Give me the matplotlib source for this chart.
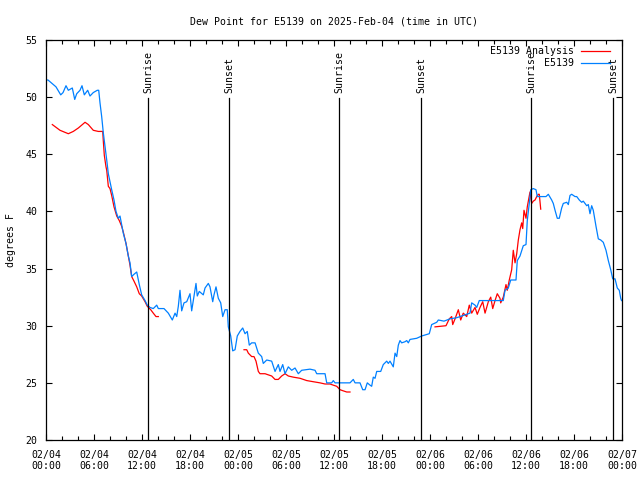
import matplotlib
matplotlib.use('Agg')
import matplotlib.pyplot as plt
import matplotlib.dates as mdates
import numpy as np
import pandas as pd

plt.rcParams['font.family'] = ['DejaVu Sans Mono']
FS = 7.1

start = pd.Timestamp('2025-02-04 00:00')

# E5139 observations: hours since 02/04 00:00 UTC, dew point (F)
obs_hours = [0, 0.25, 0.75, 1.25, 1.84, 2.13, 2.5, 2.79, 3.29, 3.59, 3.84, 4.25, 4.5, 4.79, 5.21, 5.5,
             5.91, 6.41, 6.59, 6.75, 6.96, 7.16, 7.38, 7.59, 7.79, 8.21, 8.5, 8.75, 9.04, 9.25, 9.66,
             10.0, 10.29, 10.5, 10.71, 11.0, 11.34, 11.66, 11.96, 12.38, 12.66, 13.0, 13.41, 13.84,
             14.04, 14.75, 15.29, 15.79, 16.13, 16.34, 16.54, 16.75, 16.96, 17.25, 17.59, 18.0, 18.21,
             18.5, 18.75, 18.91, 19.16, 19.66, 19.88, 20.29, 20.5, 20.84, 21.0, 21.25, 21.54, 21.84,
             22.09, 22.38, 22.66, 22.79, 23.09, 23.34, 23.63, 23.91, 24.25, 24.59, 24.88, 25.16,
             25.41, 25.71, 26.13, 26.54, 26.96, 27.16, 27.59, 28.21, 28.63, 29.04, 29.25, 29.59,
             29.88, 30.29, 30.71, 31.13, 31.54, 31.96, 33.0, 33.63, 33.84, 34.88, 35.09, 35.71,
             35.91, 36.13, 38.0, 38.41, 38.63, 39.25, 39.59, 39.88, 40.16, 40.5, 40.71, 40.91,
             41.13, 41.34, 41.84, 42.16, 42.59, 42.79, 43.0, 43.41, 43.63, 43.84, 44.04, 44.25,
             44.46, 44.88, 45.09, 45.29, 45.5, 46.34, 46.96, 47.91, 48.21, 48.84, 49.04, 49.75,
             50.5, 51.34, 51.75, 53.0, 53.21, 53.63, 53.84, 54.16, 57.16, 57.38, 57.79, 58.09,
             58.75, 58.91, 59.25, 59.66, 60.0, 60.16, 60.41, 60.59, 60.91, 61.25, 61.41, 62.5,
             62.79, 63.21, 63.41, 63.63, 63.91, 64.16, 64.46, 64.66, 65.09, 65.29, 65.5, 65.71,
             66.13, 66.34, 66.66, 66.96, 67.16, 67.59, 67.79, 68.0, 68.21, 68.41, 68.75, 69.04,
             69.34, 69.66, 70.0, 70.29, 70.59, 70.84, 71.13, 71.41, 71.66, 71.84, 71.94]
obs_dewp = [51.5, 51.5, 51.2, 50.9, 50.2, 50.4, 51.0, 50.6, 50.8, 49.8, 50.3, 50.6, 51.0, 50.2, 50.6, 50.1,
            50.4, 50.6, 50.6, 49.5, 48.3, 46.9, 45.7, 44.5, 43.3, 41.9, 41.0, 40.0, 39.4, 39.6, 38.1,
            37.2, 36.1, 35.5, 34.3, 34.5, 34.7, 33.6, 32.7, 32.2, 31.8, 31.6, 31.5, 31.8,
            31.5, 31.5, 31.1, 30.5, 31.1, 30.8, 31.7, 33.1, 31.3, 32.0, 32.1, 32.8, 31.3,
            32.6, 33.7, 32.6, 33.0, 32.7, 33.3, 33.7, 33.4, 32.1, 32.7, 33.4, 32.4, 32.0,
            30.8, 31.4, 31.4, 29.9, 29.1, 27.8, 27.9, 29.1, 29.5, 29.8, 29.3, 29.5,
            28.3, 28.5, 28.5, 27.6, 27.3, 26.7, 27.0, 26.9, 26.0, 26.6, 26.0, 26.6,
            25.8, 26.4, 26.1, 26.3, 25.8, 26.1, 26.2, 26.1, 25.8, 25.8, 25.0, 25.0,
            25.2, 25.0, 25.0, 25.3, 25.0, 25.0, 24.4, 24.4, 25.0, 24.8, 24.7, 25.5,
            25.4, 26.0, 26.0, 26.6, 26.9, 26.7, 26.9, 26.4, 27.6, 27.3, 28.3, 28.7,
            28.5, 28.6, 28.7, 28.5, 28.8, 28.9, 29.1, 29.3, 30.1, 30.3, 30.5, 30.4,
            30.6, 30.7, 30.8, 31.1, 32.0, 31.8, 31.6, 32.2, 32.2, 33.1, 33.3, 34.0,
            34.0, 35.7, 36.1, 37.0, 37.1, 39.2, 40.7, 41.9, 42.0, 41.9, 41.3, 41.3,
            41.5, 41.0, 40.7, 40.1, 39.4, 39.4, 40.3, 40.7, 40.8, 40.6, 41.4, 41.5,
            41.3, 41.3, 41.0, 40.8, 40.9, 40.5, 40.6, 39.8, 40.5, 40.1, 38.7, 37.6,
            37.5, 37.3, 36.6, 35.7, 34.9, 34.1, 34.1, 33.3, 33.1, 32.4, 32.2]

# E5139 Analysis (NaN marks gaps)
ana_hours = [0.79, 1.75, 2.79, 3.41, 4.04, 4.88, 5.29, 5.91, 6.54, 7.09, 7.16, 7.29, 7.5, 7.59, 7.79,
             8.0, 8.21, 8.5, 8.63, 8.84, 9.16, 9.46, 9.66, 10.0, 10.29, 10.5, 10.71, 11.0, 11.34,
             11.66, 11.96, 12.38, 12.66, 13.09, 13.41, 13.75, 14.04, 14.1,
             24.75, 25.09, 25.29, 25.71, 26.0, 26.25, 26.54, 26.75, 27.38, 27.79, 28.21, 28.63,
             29.04, 29.46, 29.88, 30.29, 30.91, 31.75, 32.59, 33.41, 34.25, 34.88, 35.5, 35.91,
             36.34, 36.75, 37.16, 37.59, 38.0, 38.1,
             48.63, 50.0, 50.41, 50.71, 50.84, 51.13, 51.54, 51.84, 52.16, 52.59, 52.91, 53.21,
             53.63, 53.91, 54.25, 54.59, 54.88, 55.29, 55.59, 55.84, 56.13, 56.41, 56.75, 56.84,
             57.16, 57.5, 57.66, 57.91, 58.21, 58.41, 58.63, 58.84, 59.04, 59.25, 59.46, 59.59,
             59.75, 60.0, 60.16, 60.5, 60.71, 60.91, 61.13, 61.34, 61.54, 61.66, 61.84]
ana_dewp = [47.6, 47.1, 46.8, 47.0, 47.3, 47.8, 47.6, 47.1, 47.0, 47.0, 46.2, 44.9, 43.9, 43.6, 42.2,
            42.0, 41.4, 40.4, 40.1, 39.6, 39.2, 38.7, 38.2, 37.2, 36.1, 35.3, 34.3, 33.9, 33.4,
            32.8, 32.6, 32.1, 31.7, 31.4, 31.1, 30.8, 30.8, np.nan,
            27.9, 27.9, 27.6, 27.3, 27.3, 26.9, 26.0, 25.8, 25.8, 25.7, 25.6, 25.3,
            25.3, 25.6, 25.8, 25.6, 25.5, 25.4, 25.2, 25.1, 25.0, 24.9, 24.9, 24.8,
            24.7, 24.4, 24.3, 24.2, 24.2, np.nan,
            29.9, 30.0, 30.6, 30.8, 30.1, 30.6, 31.4, 30.5, 31.1, 30.8, 31.8, 31.1,
            31.6, 31.0, 31.6, 32.1, 31.1, 32.1, 32.5, 31.5, 32.2, 32.8, 32.4, 32.0,
            32.5, 33.6, 33.1, 34.0, 34.9, 36.6, 35.5, 36.3, 37.5, 38.4, 39.0, 38.5,
            40.1, 39.4, 40.4, 41.7, 40.7, 40.9, 41.0, 41.3, 41.5, 41.5, 40.2]

sun_times = ['2025-02-04 12:47', '2025-02-04 22:55', '2025-02-05 12:40',
             '2025-02-05 22:55', '2025-02-06 12:38', '2025-02-06 22:55']
sun_labels = ['Sunrise', 'Sunset', 'Sunrise', 'Sunset', 'Sunrise', 'Sunset']

obs_t = start + pd.to_timedelta(obs_hours, unit='h')
ana_t = start + pd.to_timedelta(ana_hours, unit='h')

fig = plt.figure(figsize=(6.4, 4.8), dpi=100)
ax = fig.add_axes([46/640, 40/480, 576/640, 400/480])

ax.plot(ana_t, ana_dewp, color='#ff0000', lw=0.9, label='E5139 Analysis')
ax.plot(obs_t, obs_dewp, color='#0080ff', lw=0.9, label='E5139')

for st, lab in zip(sun_times, sun_labels):
    t = pd.Timestamp(st)
    ax.plot([t, t], [20, 49.9], color='black', lw=0.9)
    ax.text(t, 50.4, lab, rotation=90, ha='center', va='bottom', fontsize=FS)

ax.set_xlim(pd.Timestamp('2025-02-04'), pd.Timestamp('2025-02-07'))
ax.set_ylim(20, 55)
ax.set_yticks(np.arange(20, 56, 5))
ax.xaxis.set_major_locator(mdates.HourLocator(byhour=[0, 6, 12, 18]))
ax.xaxis.set_minor_locator(mdates.HourLocator(interval=2))
ax.xaxis.set_major_formatter(mdates.DateFormatter('%m/%d\n%H:%M'))
ax.tick_params(which='both', direction='in', top=True, right=True, labelsize=FS, width=0.8)
ax.tick_params(which='major', length=4)
ax.tick_params(axis='x', which='major', pad=7)
ax.tick_params(axis='y', which='major', pad=6)
ax.tick_params(which='minor', length=3)
for s in ax.spines.values():
    s.set_linewidth(0.9)

ax.set_ylabel('degrees F', fontsize=FS, labelpad=7)
ax.set_title('Dew Point for E5139 on 2025-Feb-04 (time in UTC)', fontsize=FS, pad=11)

ax.legend(loc='upper right', bbox_to_anchor=(0.979, 0.985), frameon=False, fontsize=FS,
          markerfirst=False, handlelength=2.9, handletextpad=0.7, labelspacing=0.25,
          borderpad=0, borderaxespad=0)

fig.savefig('out.png', dpi=100)
